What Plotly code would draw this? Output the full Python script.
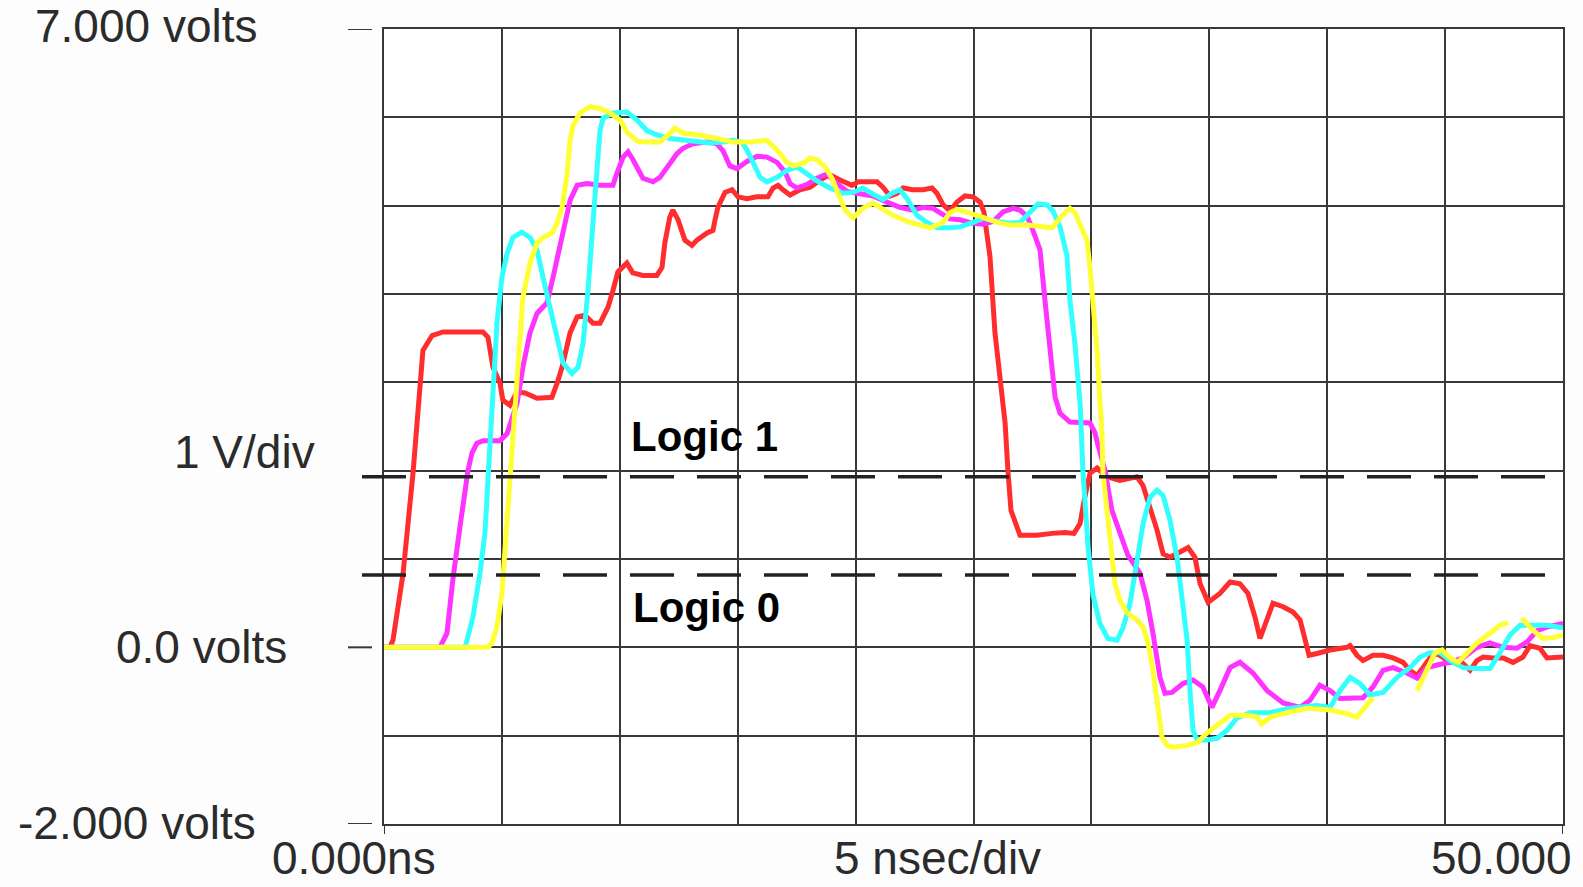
import plotly.graph_objects as go

# ---- data (time in ns, voltage in V) ----
red_t = [0, 0.25, 0.38, 0.81, 1.23, 1.53, 1.65, 2.04, 2.50, 4.20, 4.41, 4.62, 4.92, 5.04, 5.34, 5.64, 5.98, 6.49,
         7.12, 7.34, 7.55, 7.89, 8.19, 8.52, 8.86, 9.16, 9.50, 9.71, 9.92, 10.30, 10.55, 10.98, 11.57, 11.79, 11.91,
         12.12, 12.25, 12.47, 12.76, 13.06, 13.27, 13.70, 13.95, 14.04, 14.16, 14.46, 14.76, 15.01, 15.39, 15.82,
         16.28, 16.50, 16.71, 16.92, 17.22, 17.64, 18.07, 18.62, 18.91, 19.34, 19.85, 20.10, 20.91, 21.16, 21.46,
         21.76, 22.01, 22.43, 22.86, 23.24, 23.45, 23.71, 24.00, 24.30, 24.64, 24.98, 25.28, 25.44, 25.57, 25.70,
         25.91, 26.12, 26.34, 26.46, 26.59, 26.97, 27.69, 28.33, 28.88, 29.26, 29.52, 29.69, 29.94, 30.24, 30.66,
         31.21, 31.93, 32.19, 32.48, 32.78, 33.04, 33.33, 33.76, 34.10, 34.39, 34.61, 34.95, 35.45, 35.88, 36.30,
         36.64, 36.94, 37.15, 37.45, 37.70, 38.13, 38.55, 38.85, 39.06, 39.23, 39.57, 40.12, 40.84, 40.97, 41.26,
         41.52, 41.94, 42.37, 42.79, 43.22, 43.51, 43.81, 44.06, 44.36, 44.66, 44.91, 45.21, 45.63, 46.06, 46.35,
         46.61, 47.03, 47.46, 47.88, 48.30, 48.60, 49.02, 49.32, 49.75, 50.00]
red_v = [0, 0, 0.08, 0.84, 1.97, 2.99, 3.36, 3.53, 3.57, 3.57, 3.51, 3.17, 2.99, 2.80, 2.74, 2.89, 2.88, 2.82,
         2.83, 2.99, 3.17, 3.56, 3.74, 3.76, 3.67, 3.67, 3.85, 4.04, 4.25, 4.35, 4.24, 4.21, 4.21, 4.30, 4.58,
         4.87, 4.95, 4.84, 4.61, 4.55, 4.61, 4.69, 4.72, 4.84, 4.98, 5.15, 5.18, 5.10, 5.08, 5.10,
         5.10, 5.20, 5.23, 5.18, 5.12, 5.18, 5.21, 5.31, 5.35, 5.29, 5.23, 5.27, 5.27, 5.21, 5.11,
         5.14, 5.20, 5.18, 5.18, 5.20, 5.14, 5.01, 4.94, 5.04, 5.11, 5.10, 5.04, 4.93, 4.67, 4.42,
         3.56, 3.06, 2.54, 2.00, 1.55, 1.27, 1.27, 1.29, 1.30, 1.29, 1.40, 1.66, 1.97, 2.03, 1.93,
         1.89, 1.93, 1.83, 1.59, 1.33, 1.06, 1.02, 1.08, 1.13, 1.02, 0.72, 0.51, 0.61, 0.74, 0.72,
         0.61, 0.34, 0.10, 0.31, 0.50, 0.46, 0.40, 0.31, 0.08, -0.09, -0.07, -0.03, 0.00, 0.02, -0.09,
         -0.15, -0.09, -0.09, -0.12, -0.17, -0.26, -0.32, -0.23, -0.12, -0.07, -0.11, -0.17, -0.15, -0.26, -0.15,
         -0.11, -0.12, -0.12, -0.17, -0.11, 0.02, -0.01, -0.12, -0.12, -0.11]

magenta_t = [0, 2.37, 2.67, 2.93, 3.22, 3.44, 3.56, 3.73, 3.94, 4.20, 4.92, 5.22, 5.43, 5.64, 5.89, 6.19, 6.49,
             6.91, 7.17, 7.55, 7.89, 8.19, 8.61, 9.16, 9.71, 9.88, 10.14, 10.35, 10.56, 10.98, 11.41, 11.70, 12.13,
             12.43, 12.68, 13.10, 13.70, 14.12, 14.38, 14.67, 14.97, 15.39, 15.82, 16.24, 16.67, 17.01, 17.22,
             17.51, 17.94, 18.36, 18.79, 19.21, 19.64, 20.19, 20.74, 21.33, 21.88, 22.43, 22.86, 23.28, 23.71,
             24.00, 24.43, 24.98, 25.40, 25.83, 26.25, 26.68, 26.97, 27.27, 27.52, 27.82, 28.03, 28.24, 28.46,
             28.67, 29.09, 29.94, 30.15, 30.28, 30.58, 30.87, 31.21, 31.55, 32.06, 32.36, 32.61, 32.91, 33.12,
             33.42, 33.88, 34.31, 34.73, 35.11, 35.45, 35.88, 36.30, 36.85, 37.45, 38.13, 38.85, 39.27, 39.69,
             40.12, 40.54, 41.52, 41.94, 42.37, 42.79, 43.38, 43.81, 44.23, 44.66, 45.21, 45.76, 46.35, 46.90,
             47.46, 48.05, 48.47, 48.90, 49.32, 50.00]
magenta_v = [0, 0, 0.16, 0.79, 1.36, 1.74, 2.00, 2.20, 2.31, 2.34, 2.34, 2.42, 2.57, 2.76, 3.17, 3.56, 3.78,
             3.90, 4.19, 4.64, 5.06, 5.23, 5.25, 5.23, 5.23, 5.37, 5.55, 5.61, 5.52, 5.31, 5.27, 5.32, 5.48,
             5.59, 5.65, 5.70, 5.72, 5.70, 5.62, 5.45, 5.42, 5.50, 5.56, 5.55, 5.49, 5.38, 5.25,
             5.20, 5.24, 5.31, 5.36, 5.25, 5.16, 5.14, 5.11, 5.04, 4.98, 4.95, 4.98, 4.97, 4.89,
             4.85, 4.84, 4.80, 4.79, 4.82, 4.93, 4.97, 4.95, 4.88, 4.72, 4.50, 3.93, 3.44, 2.83,
             2.65, 2.55, 2.54, 2.43, 2.29, 2.00, 1.55, 1.29, 1.04, 0.84, 0.53, 0.16, -0.34, -0.52,
             -0.51, -0.41, -0.37, -0.45, -0.68, -0.49, -0.23, -0.17, -0.29, -0.49, -0.63, -0.68, -0.60, -0.43,
             -0.49, -0.58, -0.57, -0.45, -0.26, -0.23, -0.29, -0.35, -0.23, -0.20, -0.17, -0.12, 0.00, 0.05,
             0.00, -0.01, 0.06, 0.19, 0.23, 0.27]

cyan_t = [0, 3.44, 3.77, 4.07, 4.28, 4.41, 4.58, 4.79, 5.00, 5.22, 5.47, 5.85, 6.19, 6.49, 6.74, 7.04, 7.34,
          7.59, 7.97, 8.23, 8.44, 8.65, 8.86, 9.03, 9.16, 9.29, 9.71, 10.31, 10.73, 11.15, 11.58, 12.13, 12.98,
          13.83, 14.38, 14.80, 15.18, 15.39, 15.65, 15.95, 16.24, 16.67, 17.09, 17.51, 17.94, 18.36, 18.91,
          19.47, 19.89, 20.31, 20.74, 21.16, 21.54, 21.88, 22.18, 22.60, 23.03, 23.45, 24.00, 24.43, 24.98,
          25.40, 25.83, 26.42, 26.97, 27.40, 27.74, 28.12, 28.37, 28.67, 28.96, 29.09, 29.30, 29.52, 29.64,
          29.86, 30.07, 30.36, 30.70, 31.09, 31.34, 31.64, 31.93, 32.19, 32.49, 32.78, 33.04, 33.33, 33.63,
          33.84, 34.06, 34.18, 34.31, 34.48, 34.90, 35.33, 35.75, 36.17, 36.73, 37.57, 38.42, 39.57, 40.12,
          40.54, 40.97, 41.39, 41.82, 42.37, 42.96, 43.51, 43.94, 44.36, 44.78, 45.21, 45.76, 46.35, 46.90,
          47.33, 47.75, 48.18, 48.73, 49.32, 50.00]
cyan_v = [0, 0, 0.34, 0.84, 1.29, 1.86, 2.57, 3.67, 4.19, 4.46, 4.64, 4.70, 4.64, 4.50, 4.19, 3.85, 3.51,
          3.22, 3.10, 3.17, 3.44, 4.04, 4.80, 5.35, 5.85, 5.99, 6.05, 6.06, 5.97, 5.85, 5.80, 5.76, 5.74,
          5.71, 5.72, 5.74, 5.72, 5.63, 5.49, 5.32, 5.27, 5.32, 5.40, 5.44, 5.36, 5.28, 5.20,
          5.14, 5.15, 5.20, 5.13, 5.07, 5.14, 5.18, 5.08, 4.89, 4.81, 4.75, 4.75, 4.76, 4.81,
          4.86, 4.83, 4.80, 4.81, 4.92, 5.02, 5.01, 4.94, 4.76, 4.44, 3.93, 3.44, 2.76, 2.00,
          1.13, 0.59, 0.27, 0.10, 0.08, 0.22, 0.50, 0.95, 1.40, 1.70, 1.78, 1.72, 1.44, 1.02,
          0.53, 0.08, -0.49, -0.94, -1.05, -1.05, -1.03, -0.94, -0.80, -0.74, -0.74, -0.69, -0.66, -0.68,
          -0.49, -0.34, -0.41, -0.54, -0.51, -0.34, -0.23, -0.11, -0.06, -0.06, -0.15, -0.23, -0.24, -0.24,
          -0.06, 0.14, 0.25, 0.25, 0.25, 0.22]

yellow_t = [0, 4.41, 4.58, 4.79, 5.00, 5.13, 5.26, 5.43, 5.56, 5.68, 5.89, 6.19, 6.49, 6.74, 7.12, 7.34, 7.55,
            7.76, 7.89, 8.02, 8.31, 8.74, 9.16, 9.58, 10.01, 10.31, 10.73, 11.15, 11.70, 12.13, 12.34, 12.68,
            13.40, 14.12, 14.80, 15.52, 16.24, 16.67, 17.09, 17.35, 17.77, 18.07, 18.36, 18.70, 19.00, 19.25,
            19.55, 19.89, 20.31, 20.74, 21.03, 21.59, 22.31, 23.16, 23.71, 24.00, 24.30, 24.72, 25.28, 26.00,
            26.55, 27.27, 27.82, 28.33, 28.67, 29.09, 29.30, 29.52, 29.81, 29.94, 30.07, 30.24, 30.36, 30.45,
            30.49, 30.66, 30.87, 31.00, 31.21, 31.51, 31.93, 32.19, 32.40, 32.61, 32.82, 32.99, 33.21, 33.46,
            34.06, 34.48, 34.90, 35.45, 35.88, 36.60, 37.02, 37.23, 37.57, 38.13, 39.14, 40.12, 40.84, 41.26,
            41.60, 41.94, None, 43.81, 44.23, 44.57, 44.87, 45.21, 45.55, 45.93, 46.35, 46.90, 47.33, 47.67,
            None, 48.26, 48.73, 49.15, 49.58, 50.00]
yellow_v = [0, 0, 0.05, 0.23, 0.61, 1.10, 1.66, 2.15, 2.63, 3.25, 3.96, 4.35, 4.58, 4.64, 4.69, 4.80, 4.98,
            5.35, 5.74, 5.91, 6.05, 6.12, 6.10, 6.05, 5.97, 5.83, 5.73, 5.72, 5.72, 5.82, 5.88, 5.82,
            5.80, 5.76, 5.72, 5.72, 5.74, 5.63, 5.49, 5.45, 5.48, 5.54, 5.52, 5.44, 5.31, 5.14,
            4.95, 4.86, 4.97, 5.03, 4.98, 4.89, 4.81, 4.75, 4.81, 4.92, 4.96, 4.93, 4.88, 4.81,
            4.78, 4.78, 4.76, 4.75, 4.86, 4.97, 4.92, 4.78, 4.61, 4.30, 3.93, 3.36, 2.80, 2.42,
            1.97, 1.52, 1.06, 0.72, 0.53, 0.39, 0.31, 0.23, 0.05, -0.26, -0.68, -1.02, -1.11, -1.13,
            -1.11, -1.08, -0.97, -0.85, -0.77, -0.77, -0.79, -0.87, -0.79, -0.75, -0.69, -0.71, -0.75, -0.79,
            -0.69, -0.57, None, -0.49, -0.26, -0.06, -0.03, -0.12, -0.17, -0.07, 0.05, 0.16, 0.25, 0.28,
            None, 0.33, 0.19, 0.10, 0.11, 0.14]

logic_high = 1.93
logic_low = 0.82
left_labels = ["7.000 volts", "1 V/div", "0.0 volts", "-2.000 volts"]
bottom_labels = ["0.000ns", "5 nsec/div", "50.000"]

# ---- figure ----
W, H = 1583, 887
L, R, T, B = 384, 20, 29, 63
pw, ph = W - L - R, H - T - B


def px(x):
    return (x - L) / pw


def py(y):
    return (H - B - y) / ph


fig = go.Figure()
series = [(red_t, red_v, "#ff2d2d"), (magenta_t, magenta_v, "#ff33ff"),
          (cyan_t, cyan_v, "#33ffff"), (yellow_t, yellow_v, "#ffff33")]
for t, v, c in series:
    fig.add_trace(go.Scatter(x=t, y=v, mode="lines", line=dict(color=c, width=5),
                             connectgaps=False, hoverinfo="skip", showlegend=False))

grid = "#383838"
fig.update_xaxes(range=[0, 50], dtick=5, tick0=0, showgrid=True, gridcolor=grid, gridwidth=2,
                 showline=True, mirror=True, linecolor=grid, linewidth=2, zeroline=False,
                 showticklabels=False, ticks="", fixedrange=True)
fig.update_yaxes(range=[-2, 7], dtick=1, tick0=0, showgrid=True, gridcolor=grid, gridwidth=2,
                 showline=True, mirror=True, linecolor=grid, linewidth=2, zeroline=False,
                 showticklabels=False, ticks="", fixedrange=True)

shapes = []
for lv in (logic_high, logic_low):
    shapes.append(dict(type="line", xref="paper", yref="y", x0=px(362), x1=1.0, y0=lv, y1=lv,
                       line=dict(color="#222222", width=3.5, dash="44px,23px"), layer="above"))
for yv in (7, 0, -2):
    shapes.append(dict(type="line", xref="paper", yref="y", x0=px(348), x1=px(372), y0=yv, y1=yv,
                       line=dict(color="#383838", width=2)))
for xv in (0, 50):
    shapes.append(dict(type="line", xref="x", yref="paper", x0=xv, x1=xv, y0=py(826), y1=py(834),
                       line=dict(color="#383838", width=2)))
fig.update_layout(shapes=shapes)

lab_font = dict(family="Liberation Sans, Arial, sans-serif", size=46, color="#2b2b2b")
ann = []
left_pos = [(145.5, 26.5), (244, 452), (201, 647), (136.5, 823)]
for text, (cx, cy) in zip(left_labels, left_pos):
    ann.append(dict(text=text, x=px(cx), y=py(cy), xref="paper", yref="paper",
                    xanchor="center", yanchor="middle", showarrow=False, font=lab_font))
bottom_x = [354, 937.5, 1501]
for text, cx in zip(bottom_labels, bottom_x):
    ann.append(dict(text=text, x=px(cx), y=py(886), xref="paper", yref="paper",
                    xanchor="center", yanchor="bottom", showarrow=False, font=lab_font))
bold_font = dict(family="Liberation Sans, Arial, sans-serif", size=42, color="#000000")
ann.append(dict(text="<b>Logic 1</b>", x=px(704.5), y=py(436.5), xref="paper", yref="paper",
                xanchor="center", yanchor="middle", showarrow=False, font=bold_font))
ann.append(dict(text="<b>Logic 0</b>", x=px(706.5), y=py(607), xref="paper", yref="paper",
                xanchor="center", yanchor="middle", showarrow=False, font=bold_font))

fig.update_layout(width=W, height=H, margin=dict(l=L, r=R, t=T, b=B, pad=0),
                  paper_bgcolor="#fdfdfd", plot_bgcolor="#ffffff", annotations=ann,
                  showlegend=False)

fig.write_html("out.html", config={"displayModeBar": False},
               post_script="document.body.style.margin='0';document.body.style.overflow='hidden';")
